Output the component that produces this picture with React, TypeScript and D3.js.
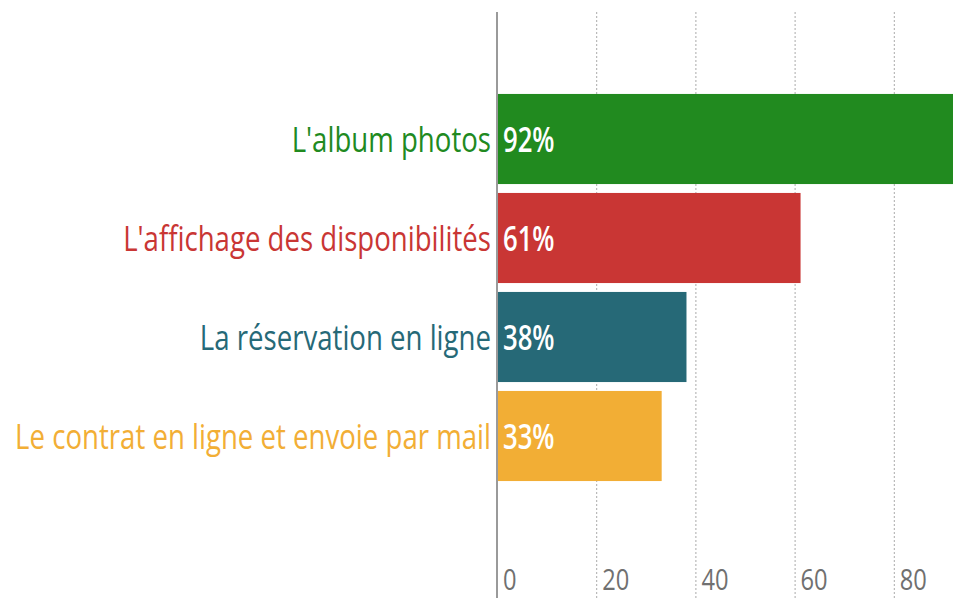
import React, { useEffect, useRef } from "react";
import * as d3 from "d3";

const categories = [
  "L'album photos",
  "L'affichage des disponibilités",
  "La réservation en ligne",
  "Le contrat en ligne et envoie par mail",
];
const values = [92, 61, 38, 33];
const colors = ["#218a1f", "#c93634", "#266977", "#f2ae35"];
const tickValues = [0, 20, 40, 60, 80];

const FONT = "'Open Sans', 'Noto Sans', sans-serif";
// the original uses a narrow face; squeeze the installed one to match
const LONGEST_LABEL_WIDTH = 476;

export default function App() {
  const svgRef = useRef<SVGSVGElement>(null);

  useEffect(() => {
    const width = 953;
    const height = 598;
    const svg = d3.select(svgRef.current);
    svg.selectAll("*").remove();

    const x = d3.scaleLinear().domain([0, 100]).range([498, 994]);
    const y = d3
      .scaleBand<string>()
      .domain(categories)
      .range([89.5, 89.5 + 4 * 99])
      .paddingInner(0.09)
      .paddingOuter(0.045);

    // measure how much the font must be squeezed
    const probe = svg
      .append("text")
      .style("font-family", FONT)
      .style("font-size", "35px")
      .text(categories[3]);
    const measured = (probe.node() as SVGTextElement).getComputedTextLength() || LONGEST_LABEL_WIDTH;
    probe.remove();
    const k = LONGEST_LABEL_WIDTH / measured;

    // dotted grid
    svg
      .append("g")
      .selectAll("line")
      .data(tickValues.filter((d) => d > 0))
      .join("line")
      .attr("x1", (d) => x(d) - 0.5)
      .attr("x2", (d) => x(d) - 0.5)
      .attr("y1", 12)
      .attr("y2", height)
      .attr("stroke", "#aaa")
      .attr("stroke-width", 1)
      .attr("stroke-dasharray", "2,2");

    // bars
    svg
      .append("g")
      .selectAll("rect")
      .data(values)
      .join("rect")
      .attr("x", x(0))
      .attr("y", (d, i) => y(categories[i])!)
      .attr("width", (d) => x(d) - x(0))
      .attr("height", y.bandwidth())
      .attr("fill", (d, i) => colors[i]);

    // axis line
    svg
      .append("line")
      .attr("x1", x(0) - 1)
      .attr("x2", x(0) - 1)
      .attr("y1", 12)
      .attr("y2", height)
      .attr("stroke", "#9a9a9a")
      .attr("stroke-width", 2);

    // category labels
    svg
      .append("g")
      .selectAll("text")
      .data(categories)
      .join("text")
      .attr(
        "transform",
        (d) => `translate(${x(0) - 7},${y(d)! + y.bandwidth() / 2 + 13}) scale(${k},1)`
      )
      .attr("text-anchor", "end")
      .attr("fill", (d, i) => colors[i])
      .style("font-family", FONT)
      .style("font-size", "35px")
      .text((d) => d);

    // value labels
    svg
      .append("g")
      .selectAll("text")
      .data(values)
      .join("text")
      .attr(
        "transform",
        (d, i) =>
          `translate(${x(0) + 5},${y(categories[i])! + y.bandwidth() / 2 + 13}) scale(${k * 0.93},1)`
      )
      .attr("fill", "#fff")
      .style("font-family", FONT)
      .style("font-size", "35px")
      .style("font-weight", 600)
      .text((d) => `${d}%`);

    // tick labels
    svg
      .append("g")
      .selectAll("text")
      .data(tickValues)
      .join("text")
      .attr("transform", (d) => `translate(${x(d) + 5},590) scale(${k},1)`)
      .attr("fill", "#707070")
      .style("font-family", FONT)
      .style("font-size", "30px")
      .text((d) => d);

    svg.attr("width", width).attr("height", height);
  }, []);

  return (
    <svg
      ref={svgRef}
      width={953}
      height={598}
      style={{ position: "absolute", left: 0, top: 0, background: "#fff" }}
    />
  );
}
